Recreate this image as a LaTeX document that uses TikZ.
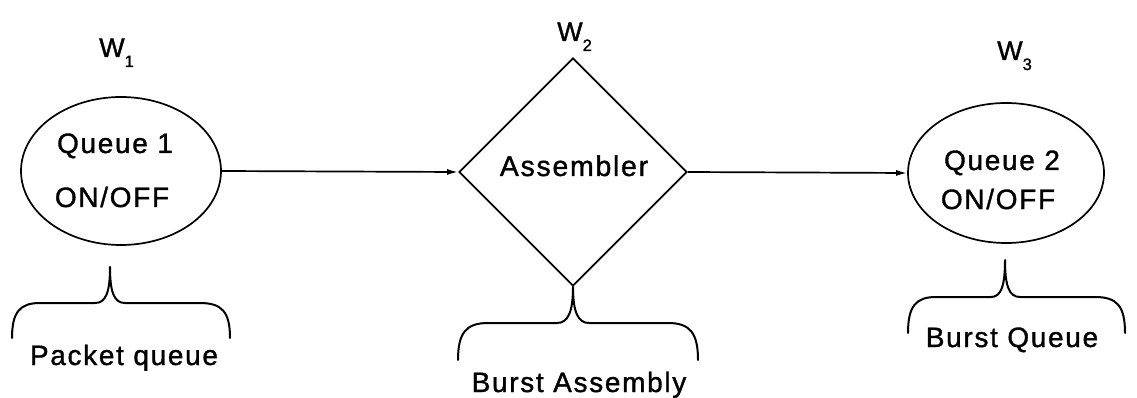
\documentclass[tikz,border=0pt]{standalone}
\usepackage{fontspec}
\setmainfont{Liberation Sans}[LetterSpace=6,FakeBold=1.2]
\usetikzlibrary{shapes.geometric,arrows.meta}
\tikzset{
  lbl/.style={font=\fontsize{28}{32}\selectfont, inner sep=0, anchor=base},
  wlbl/.style={font=\fontsize{27}{30}\selectfont, inner sep=0, anchor=base west},
  qell/.style={ellipse, draw, line width=1.7pt, inner sep=0},
  asm/.style={diamond, draw, line width=1.7pt, inner sep=0, minimum width=228pt, minimum height=228pt},
  conn/.style={line width=1.7pt, -{Latex[length=11pt,width=6pt]}},
  brc/.style={line width=2pt, line cap=round, line join=round},
}
\newcommand{\wsub}[1]{W\raisebox{-10pt}{\fontsize{16.5}{17}\selectfont #1}}
\begin{document}
\begin{tikzpicture}[x=1pt,y=-1pt]
\useasboundingbox (0,0) rectangle (1137,398);
% shapes
\node[qell, minimum width=200pt, minimum height=148pt] (q1) at (121,171) {};
\node[asm] (a) at (573,172) {};
\node[qell, minimum width=196pt, minimum height=140pt] (q2) at (1006,173) {};
% texts in shapes
\node[lbl] (q1a) at (115,153) {Queue 1};
\node[lbl] (q1b) at (112,207) {ON/OFF};
\node[lbl, font=\fontsize{28.5}{32}\selectfont] (at) at (574,176) {Assembler};
\node[lbl] (q2a) at (1002,170) {Queue 2};
\node[lbl] (q2b) at (998,209) {ON/OFF};
% W labels
\node[wlbl] (w1) at (99,57) {\wsub{1}};
\node[wlbl] (w2) at (557,41) {\wsub{2}};
\node[wlbl] (w3) at (997,60) {\wsub{3}};
% connectors
\draw[conn] (q1.east) -- (a.west);
\draw[conn] (a.east) -- (q2.west);
% braces
\draw[brc] (12,338) .. controls (12,312) and (20,303) .. (40,303) -- (95,303)
  .. controls (106,303) and (110,292) .. (110,267)
  .. controls (110,292) and (114,303) .. (125,303) -- (200,303)
  .. controls (222,303) and (230,312) .. (230,338);
\draw[brc] (458,360) .. controls (458,333) and (466,323) .. (488,323) -- (557,323)
  .. controls (568,323) and (573,312) .. (a.south)
  .. controls (573,312) and (578,323) .. (589,323) -- (668,323)
  .. controls (690,323) and (698,333) .. (698,360);
\draw[brc] (908,333) .. controls (908,306) and (916,297) .. (936,297) -- (991,297)
  .. controls (1001,297) and (1005,286) .. (1005,260)
  .. controls (1005,286) and (1009,297) .. (1020,297) -- (1095,297)
  .. controls (1117,297) and (1125,306) .. (1125,333);
% brace labels
\node[lbl] (pq) at (124,365) {Packet queue};
\node[lbl] (ba) at (579,392) {Burst Assembly};
\node[lbl] (bq) at (1012,347) {Burst Queue};
\end{tikzpicture}
\end{document}
